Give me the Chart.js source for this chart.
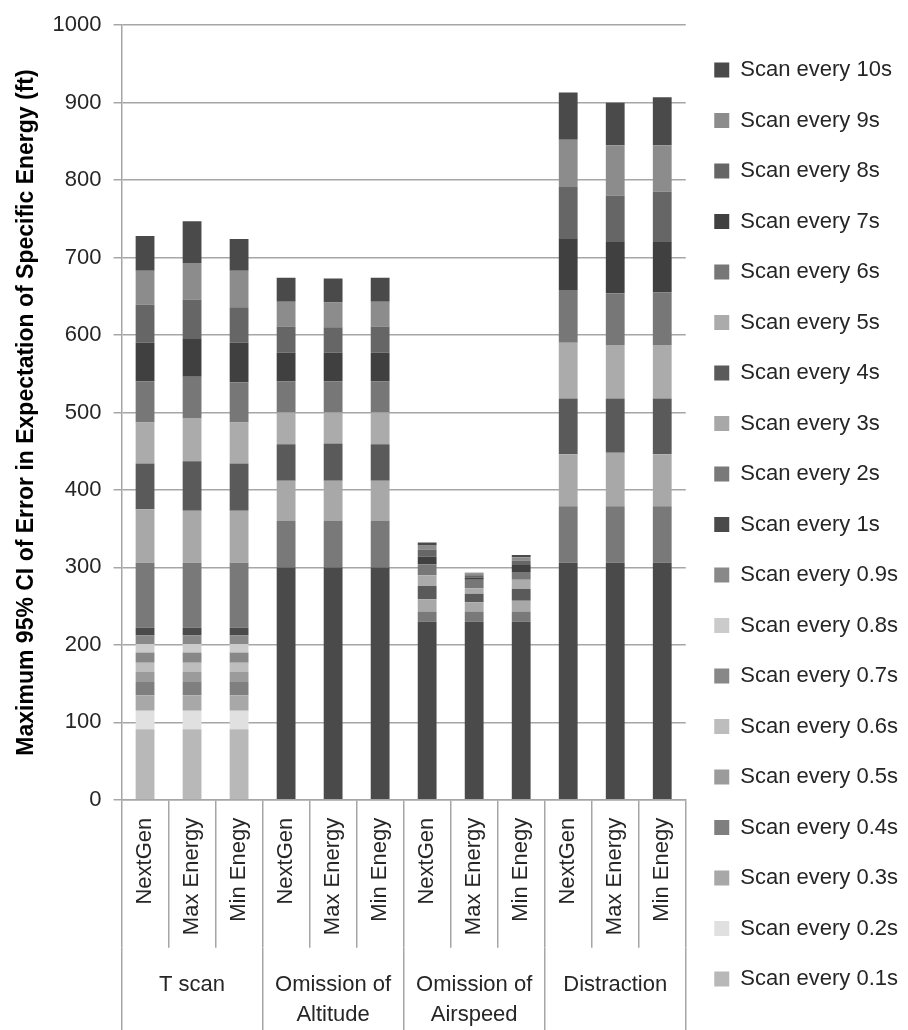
<!DOCTYPE html>
<html>
<head>
<meta charset="utf-8">
<script src="https://cdn.jsdelivr.net/npm/chart.js@4.4.1/dist/chart.umd.min.js"></script>
<style>
  html, body { margin: 0; padding: 0; background: #fff; }
  #wrap { width: 908px; height: 1030px; position: relative; }
</style>
</head>
<body>
<div id="wrap"><canvas id="barChart"></canvas></div>
<script>
// categories
var bars = ["NextGen", "Max Energy", "Min Enegy", "NextGen", "Max Energy", "Min Enegy",
            "NextGen", "Max Energy", "Min Enegy", "NextGen", "Max Energy", "Min Enegy"]
var groups = ["T scan", ["Omission of", "Altitude"], ["Omission of", "Airspeed"], "Distraction"]

// series values, one per bar (T scan x3, Altitude x3, Airspeed x3, Distraction x3)
var every0_1s = [91, 91, 91, 0, 0, 0, 0, 0, 0, 0, 0, 0]
var every0_2s = [24, 24, 24, 0, 0, 0, 0, 0, 0, 0, 0, 0]
var every0_3s = [20, 20, 20, 0, 0, 0, 0, 0, 0, 0, 0, 0]
var every0_4s = [17, 17, 17, 0, 0, 0, 0, 0, 0, 0, 0, 0]
var every0_5s = [13, 13, 13, 0, 0, 0, 0, 0, 0, 0, 0, 0]
var every0_6s = [12, 12, 12, 0, 0, 0, 0, 0, 0, 0, 0, 0]
var every0_7s = [13, 13, 13, 0, 0, 0, 0, 0, 0, 0, 0, 0]
var every0_8s = [11, 11, 11, 0, 0, 0, 0, 0, 0, 0, 0, 0]
var every0_9s = [11, 11, 11, 0, 0, 0, 0, 0, 0, 0, 0, 0]
var every1s  = [10, 10, 10, 300, 300, 300, 230, 230, 230, 306, 306, 306]
var every2s  = [84, 84, 84, 60, 60, 60, 13, 13, 13, 73, 73, 73]
var every3s  = [69, 67, 67, 52, 52, 52, 16, 12, 14, 67, 69, 67]
var every4s  = [59, 64, 61, 47, 48, 47, 17, 11, 15, 72, 70, 72]
var every5s  = [53, 56, 53, 41, 40, 41, 14, 7, 12, 72, 69, 69]
var every6s  = [53, 53, 52, 40, 40, 40, 14, 11, 10, 68, 67, 68]
var every7s  = [50, 50, 51, 37, 37, 37, 10, 3, 9, 67, 67, 66]
var every8s  = [49, 50, 46, 34, 33, 34, 9, 3, 6, 66, 59, 64]
var every9s  = [44, 47, 47, 32, 32, 32, 6, 2, 4, 61, 65, 60]
var every10s = [45, 54, 41, 31, 31, 31, 3, 1, 3, 61, 55, 62]

var names = ["Scan every 0.1s", "Scan every 0.2s", "Scan every 0.3s", "Scan every 0.4s",
             "Scan every 0.5s", "Scan every 0.6s", "Scan every 0.7s", "Scan every 0.8s",
             "Scan every 0.9s", "Scan every 1s", "Scan every 2s", "Scan every 3s",
             "Scan every 4s", "Scan every 5s", "Scan every 6s", "Scan every 7s",
             "Scan every 8s", "Scan every 9s", "Scan every 10s"]
var series = [every0_1s, every0_2s, every0_3s, every0_4s, every0_5s, every0_6s, every0_7s,
              every0_8s, every0_9s, every1s, every2s, every3s, every4s, every5s, every6s,
              every7s, every8s, every9s, every10s]
var fills = ["#b8b8b8", "#e0e0e0", "#a8a8a8", "#7f7f7f", "#9b9b9b", "#bdbdbd", "#888888",
             "#cbcbcb", "#898989", "#4a4a4a", "#797979", "#a8a8a8", "#5a5a5a", "#ababab",
             "#777777", "#404040", "#666666", "#8c8c8c", "#4a4a4a"]

var gridCol = "#a6a6a6"
var txtCol = "#262626"
var fam = "'Liberation Sans', Arial, sans-serif"
var fnt = {family: fam, size: 22}

var ds = series.map(function (v, i) {
    return {label: names[i], data: v, backgroundColor: fills[i], borderWidth: 0,
            barPercentage: 0.4, categoryPercentage: 1}
})

var ctx = document.getElementById("barChart").getContext('2d');
var chart = new Chart(ctx, {
    type: 'bar',
    data: {labels: bars, datasets: ds},
    options: {
        responsive: true,
        maintainAspectRatio: false,
        animation: false,
        layout: {padding: {top: 5, right: 0, bottom: 0, left: 0}},
        plugins: {
            tooltip: {enabled: false},
            legend: {
                position: 'right',
                reverse: true,
                // empty title only nudges the items down a bit
                title: {display: true, text: '', font: {size: 1, lineHeight: 1}, padding: {top: 13, bottom: 0}},
                labels: {font: fnt, color: txtCol, boxWidth: 15, boxHeight: 15, padding: 28.5}
            }
        },
        scales: {
            x: {
                stacked: true,
                offset: true,
                weight: 0,
                grid: {offset: true, drawOnChartArea: false, tickLength: 148, color: gridCol, lineWidth: 1.5},
                border: {color: gridCol, width: 1.5},
                ticks: {font: fnt, color: txtCol, padding: -130, minRotation: 90, maxRotation: 90, autoSkip: false},
                // blank title used as spacer so the category band is 148px tall
                title: {display: true, text: '', font: {size: 10, lineHeight: 1}, padding: {top: 0, bottom: 133}}
            },
            x2: {
                type: 'category',
                labels: groups,
                position: 'bottom',
                offset: true,
                weight: 1,
                grid: {offset: true, drawOnChartArea: false, tickLength: 82, color: gridCol, lineWidth: 1.5},
                border: {display: false},
                ticks: {font: {family: fam, size: 22, lineHeight: 1.36}, color: txtCol, padding: -60, maxRotation: 0, autoSkip: false},
                title: {display: true, text: '', font: {size: 10, lineHeight: 1}, padding: {top: 0, bottom: 50}}
            },
            y: {
                stacked: true,
                min: 0,
                max: 1000,
                ticks: {stepSize: 100, font: fnt, color: txtCol, padding: 12,
                        callback: function (v) { return String(v); }},
                grid: {color: gridCol, lineWidth: 1.5, tickLength: 8},
                border: {color: gridCol, width: 1.5},
                title: {
                    display: true,
                    text: "Maximum 95% CI of Error in Expectation of Specific Energy (ft)",
                    font: {family: fam, size: 23, weight: 'bold'},
                    color: "#000",
                    padding: {top: 13, bottom: 0}
                }
            }
        }
    }
});
</script>
</body>
</html>
